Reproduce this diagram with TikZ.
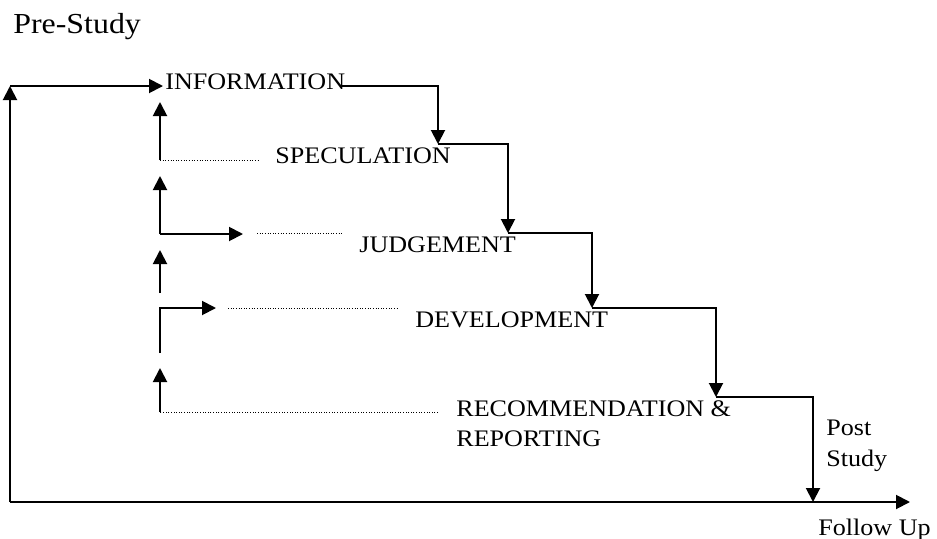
\documentclass[tikz,border=0pt]{standalone}
\usepackage{fontspec}
\setmainfont[FakeStretch=1.1]{Liberation Serif}
\usetikzlibrary{arrows.meta}

\begin{document}
\begin{tikzpicture}[x=0.02cm,y=-0.02cm,
  lbl/.style={inner sep=0pt,anchor=base west,font=\fontsize{13.5}{17}\selectfont},
  lbls/.style={inner sep=0pt,anchor=north west,align=left,font=\fontsize{13.5}{17.5}\selectfont},
  arr/.style={-{Triangle[length=2.8mm,width=2.8mm]},line width=1.1pt},
  flow/.style={line width=1.1pt},
  dots/.style={densely dotted,line width=0.5pt}]
  \useasboundingbox (0,0) rectangle (937,538);
  % phase labels
  \node[lbl,font=\fontsize{16.5}{20}\selectfont](pre) at (13,33) {Pre-Study};
  \node[lbl](info) at (165,89)  {INFORMATION};
  \node[lbl](spec) at (275,163) {SPECULATION};
  \node[lbl](judg) at (359,252) {JUDGEMENT};
  \node[lbl](dev)  at (415,327) {DEVELOPMENT};
  \node[lbls](rec) at (456,400) {RECOMMENDATION \&\\REPORTING};
  \node[lbls](post) at (826,420) {Post\\Study};
  \node[lbl](fol)  at (818,535) {Follow Up};
  % staircase
  \coordinate (a0) at (340,86);
  \coordinate (a1) at (438,144);
  \coordinate (a2) at (508,233);
  \coordinate (a3) at (592,308);
  \coordinate (a4) at (716,397);
  \coordinate (a5) at (813,502);
  \draw[arr](a0) -| (a1); \draw[arr](a1) -| (a2); \draw[arr](a2) -| (a3);
  \draw[arr](a3) -| (a4); \draw[arr](a4) -| (a5);
  % outer loop
  \coordinate (bl) at (10,502);
  \coordinate (tl) at (10,86);
  \coordinate (br) at (910,502);
  \coordinate (ie) at (163,86);
  \draw[flow](bl) -- (a5); \draw[arr](a5) -- (br);
  \draw[arr](bl) -- (tl); \draw[arr](tl) -- (ie);
  % feedback column
  \coordinate (r0) at (438,412); \coordinate (r1) at (160,412); \coordinate (r2) at (160,368);
  \draw[dots](r0) -- (r1); \draw[arr](r1) -- (r2);
  \coordinate (d0) at (160,353); \coordinate (d1) at (160,308); \coordinate (d2) at (216,308);
  \draw[arr](d0) -- (d1) -- (d2);
  \coordinate (d3) at (228,308); \coordinate (d4) at (397,308);
  \draw[dots](d3) -- (d4);
  \coordinate (u0) at (160,293); \coordinate (u1) at (160,250);
  \draw[arr](u0) -- (u1);
  \coordinate (j0) at (160,234); \coordinate (j1) at (160,176); \coordinate (j2) at (243,234);
  \draw[arr](j0) -- (j1); \draw[arr](j0) -- (j2);
  \coordinate (j3) at (257,233); \coordinate (j4) at (342,233);
  \draw[dots](j3) -- (j4);
  \coordinate (s0) at (160,160); \coordinate (s1) at (160,102); \coordinate (s2) at (258,160);
  \draw[arr](s0) -- (s1); \draw[dots](s0) -- (s2);
\end{tikzpicture}
\end{document}
